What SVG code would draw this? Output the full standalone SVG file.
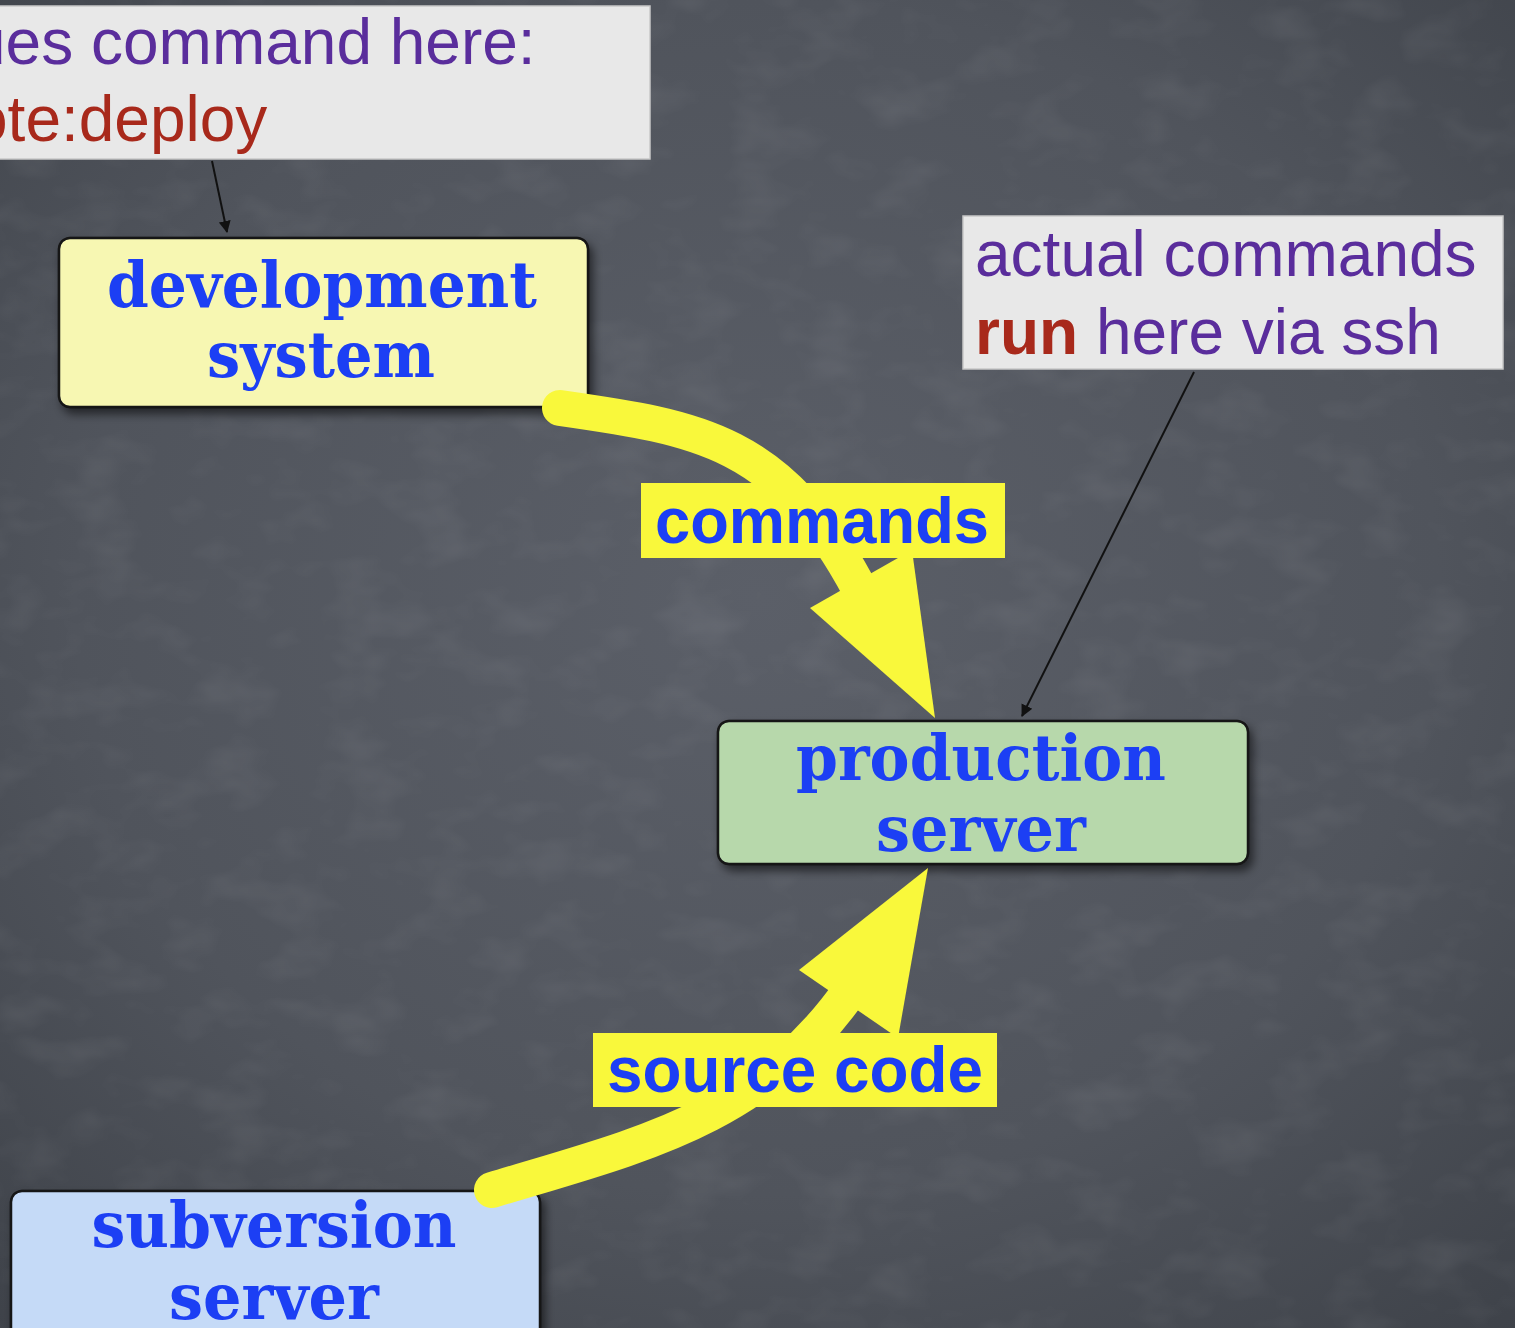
<svg xmlns="http://www.w3.org/2000/svg" width="1515" height="1328" viewBox="0 0 1515 1328">
  <defs>
    <radialGradient id="bg" cx="0.5" cy="0.45" r="0.75">
      <stop offset="0" stop-color="#5b5f68"/>
      <stop offset="0.6" stop-color="#50545c"/>
      <stop offset="1" stop-color="#3e4249"/>
    </radialGradient>
    <filter id="noise" x="0" y="0" width="100%" height="100%">
      <feTurbulence type="fractalNoise" baseFrequency="0.015 0.025" numOctaves="3" seed="4"/>
      <feColorMatrix type="matrix" values="0 0 0 0 1  0 0 0 0 1  0 0 0 0 1  0 0 0 0.9 -0.42"/>
    </filter>
    <filter id="shadow" x="-10%" y="-10%" width="125%" height="130%">
      <feDropShadow dx="4" dy="6" stdDeviation="5" flood-color="#000" flood-opacity="0.55"/>
    </filter>
    <marker id="ah" viewBox="0 0 12 16" refX="11" refY="8" markerWidth="12" markerHeight="16" markerUnits="userSpaceOnUse" orient="auto">
      <path d="M0,2 L12,8 L0,14 Z" fill="#111"/>
    </marker>
    <style>
      .callout { fill: #e8e8e8; stroke: #c8c8c8; stroke-width: 1.5; }
      .ctext { font-family: "Liberation Sans", Arial, sans-serif; font-size: 64px; fill: #5a2d9c; }
      .red { fill: #a8291b; }
      .node { stroke: #151515; stroke-width: 2.5; filter: url(#shadow); }
      .ntext { font-family: "DejaVu Serif", "Liberation Serif", serif; font-weight: bold; font-size: 64px; fill: #1c3ff4; text-anchor: middle; }
      .thin { stroke: #111; stroke-width: 2; fill: none; marker-end: url(#ah); }
      .shaft { stroke: #f9f83b; stroke-width: 36; fill: none; stroke-linecap: round; }
      .head { fill: #f9f83b; }
      .lbl { fill: #f9f83b; }
      .ltext { font-family: "Liberation Sans", Arial, sans-serif; font-weight: bold; font-size: 64px; fill: #1c3ff4; text-anchor: middle; }
    </style>
  </defs>

  <rect x="0" y="0" width="1515" height="1328" fill="url(#bg)"/>
  <rect x="0" y="0" width="1515" height="1328" filter="url(#noise)" opacity="0.15"/>

  <g id="callout-top">
    <rect class="callout" x="-10" y="6" width="660" height="153"/>
    <text class="ctext" x="-30" y="64">ues command here:</text>
    <text class="ctext red" x="-28" y="141">ote:deploy</text>
  </g>

  <g id="callout-right">
    <rect class="callout" x="963" y="216" width="540" height="153"/>
    <text class="ctext" x="975" y="276">actual commands</text>
    <text class="ctext" x="975" y="354"><tspan class="red" font-weight="bold">run</tspan> here via ssh</text>
  </g>

  <g id="development-system">
    <rect class="node" x="59" y="238" width="529" height="169" rx="11" fill="#f7f7b2"/>
    <text class="ntext" x="322" y="307" textLength="430" lengthAdjust="spacingAndGlyphs">development</text>
    <text class="ntext" x="321" y="377" textLength="228" lengthAdjust="spacingAndGlyphs">system</text>
  </g>

  <g id="production-server">
    <rect class="node" x="718" y="721" width="530" height="143" rx="11" fill="#b7d8ab"/>
    <text class="ntext" x="981" y="780" textLength="370" lengthAdjust="spacingAndGlyphs">production</text>
    <text class="ntext" x="981" y="851" textLength="210" lengthAdjust="spacingAndGlyphs">server</text>
  </g>

  <g id="subversion-server">
    <rect class="node" x="11" y="1191" width="529" height="160" rx="11" fill="#c5daf7"/>
    <text class="ntext" x="274" y="1247" textLength="365" lengthAdjust="spacingAndGlyphs">subversion</text>
    <text class="ntext" x="274" y="1319" textLength="210" lengthAdjust="spacingAndGlyphs">server</text>
  </g>

  <g id="connectors">
    <line class="thin" x1="212" y1="161" x2="227" y2="232"/>
    <line class="thin" x1="1194" y1="372" x2="1022" y2="716"/>

    <path class="shaft" d="M 560 408 C 700 428, 780 440, 860 590"/>
    <polygon class="head" points="935,718 810,608 912,550"/>
    <rect class="lbl" x="641" y="483" width="364" height="75"/>
    <text class="ltext" x="822" y="543" textLength="334" lengthAdjust="spacingAndGlyphs">commands</text>

    <path class="shaft" d="M 492 1190 C 640 1145, 760 1120, 852 988"/>
    <polygon class="head" points="928,868 799,970 898,1038"/>
    <rect class="lbl" x="593" y="1033" width="404" height="74"/>
    <text class="ltext" x="795" y="1092" textLength="376" lengthAdjust="spacingAndGlyphs">source code</text>
  </g>
</svg>
